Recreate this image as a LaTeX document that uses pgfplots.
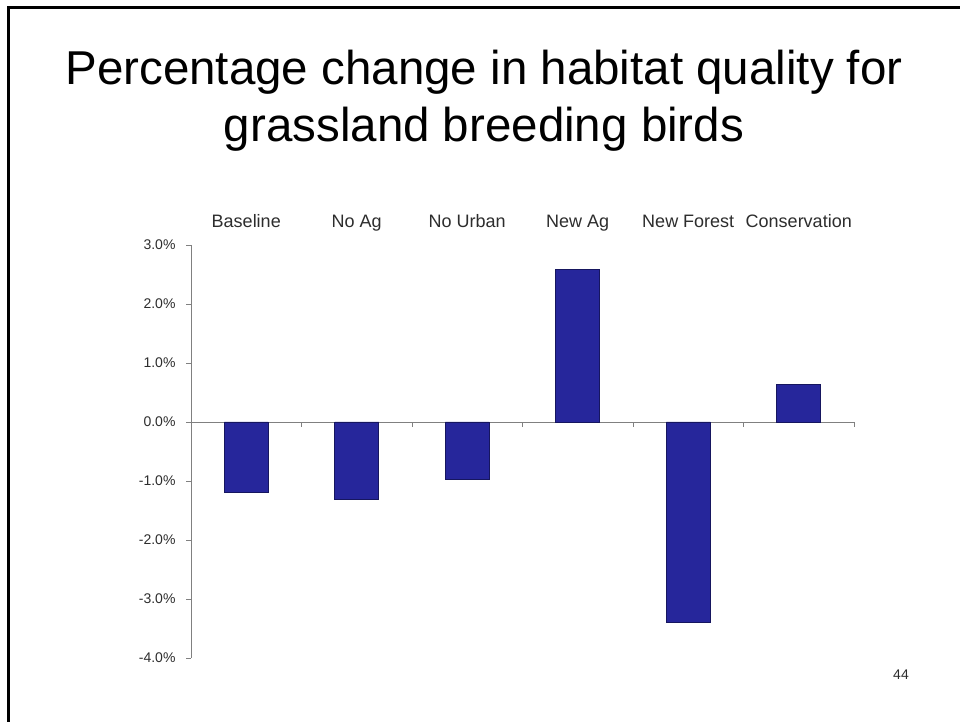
\documentclass[border=0pt]{standalone}
\usepackage{pgfplots}
\pgfplotsset{compat=1.18}
\usepackage{fontspec}
\setmainfont{Liberation Sans}
\definecolor{barfill}{RGB}{38,38,155}
\definecolor{baredge}{RGB}{22,22,95}
\definecolor{axisgray}{RGB}{128,128,128}
\definecolor{labgray}{RGB}{45,45,45}
\begin{document}
\begin{tikzpicture}[x=1bp,y=1bp]
\useasboundingbox (0,0) rectangle (960,722);
\fill[white] (0,0) rectangle (960,722);
% slide frame
\draw[line width=3bp] (8,0) -- (8,714) -- (960,714);
% title
\node[anchor=base, font=\fontsize{47.5bp}{57bp}\selectfont] at (484,637) {Percentage change in habitat quality for};
\node[anchor=base, font=\fontsize{47.5bp}{57bp}\selectfont] at (484,580) {grassland breeding birds};
% page number
\node[anchor=base, font=\fontsize{14bp}{16bp}\selectfont, text=labgray] at (901,42) {44};

\begin{axis}[
  at={(191bp,64bp)}, anchor=south west,
  scale only axis, width=663bp, height=413bp,
  xmin=-0.5, xmax=5.5, ymin=-4, ymax=3,
  axis y line=left, axis x line=middle,
  axis line style={draw=axisgray, line width=0.9bp, -},
  every tick/.style={draw=axisgray, line width=0.9bp},
  tick align=outside, major tick length=5bp,
  xtick={0.5,1.5,2.5,3.5,4.5,5.5}, xticklabels={},
  ytick={-4,-3,-2,-1,0,1,2,3},
  yticklabels={-4.0\%,-3.0\%,-2.0\%,-1.0\%,0.0\%,1.0\%,2.0\%,3.0\%},
  yticklabel style={font=\fontsize{14bp}{16bp}\selectfont, text=labgray, xshift=-7bp},
  ybar, bar width=44bp,
  clip=false,
]
\addplot[draw=baredge, line width=0.8bp, fill=barfill]
  coordinates {(0,-1.2) (1,-1.31) (2,-0.97) (3,2.59) (4,-3.39) (5,0.63)};
\end{axis}

\begin{axis}[
  at={(191bp,64bp)}, anchor=south west,
  scale only axis, width=663bp, height=413bp,
  xmin=-0.5, xmax=5.5, ymin=-4, ymax=3,
  axis x line=top, axis y line=none,
  axis line style={draw=none},
  xtick={0,1,2,3,4,5},
  xticklabels={Baseline,No Ag,No Urban,New Ag,New Forest,Conservation},
  major tick length=0pt,
  xticklabel style={font=\fontsize{18bp}{20bp}\selectfont, text=labgray, anchor=base, yshift=17bp},
  ytick=\empty,
]
\end{axis}
\end{tikzpicture}
\end{document}
